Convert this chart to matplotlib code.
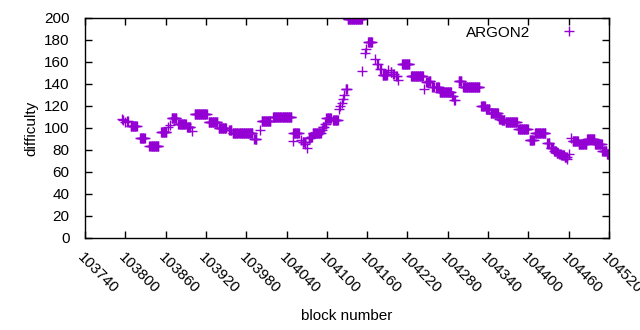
import numpy as np
import matplotlib
matplotlib.use('Agg')
import matplotlib.pyplot as plt

plt.rcParams['font.family'] = ['Liberation Sans', 'DejaVu Sans']

# difficulty per block, stored as runs: first block, number of blocks, value
run_start = [103795, 103797, 103800, 103803, 103808, 103822, 103836, 103853, 103864, 103867,
             103869, 103879, 103892, 103900, 103903, 103924, 103939, 103955, 103960, 103992,
             104000, 104003, 104020, 104049, 104050, 104061, 104064, 104068, 104070, 104073,
             104076, 104079, 104093, 104094, 104097, 104099, 104109, 104118, 104120, 104122,
             104124, 104126, 104128, 104131, 104153, 104157, 104159, 104161, 104171, 104175,
             104179, 104183, 104191, 104195, 104199, 104203, 104206, 104212, 104225, 104245,
             104248, 104252, 104257, 104263, 104268, 104287, 104289, 104296, 104303, 104330,
             104337, 104344, 104356, 104360, 104366, 104385, 104402, 104410, 104428, 104433,
             104438, 104442, 104446, 104449, 104454, 104458, 104461, 104464, 104466, 104475,
             104487, 104499, 104510, 104517]
run_len = [1, 1, 1, 2, 10, 8, 14, 9, 1, 1,
           8, 12, 6, 1, 19, 14, 12, 4, 30, 4,
           1, 14, 28, 1, 9, 1, 4, 1, 1, 3,
           3, 13, 1, 3, 2, 8, 8, 1, 1, 1,
           1, 1, 3, 22, 1, 1, 1, 7, 1, 2,
           2, 7, 1, 2, 2, 2, 1, 12, 19, 1,
           4, 3, 3, 5, 18, 2, 2, 5, 25, 6,
           6, 12, 4, 5, 18, 15, 7, 16, 4, 5,
           4, 3, 3, 5, 4, 1, 1, 1, 9, 12,
           12, 11, 7, 4]
run_val = [108, 107, 105, 106, 102, 91, 84, 96, 101, 103,
           109, 104, 101, 97, 113, 105, 100, 98, 95, 90,
           98, 106, 110, 88, 95, 89, 87, 85, 82, 91,
           92, 95, 98, 101, 104, 109, 107, 117, 120, 123,
           126, 130, 135, 199, 152, 168, 172, 178, 163, 158,
           154, 148, 153, 151, 149, 147, 144, 158, 147, 135,
           142, 143, 137, 137, 133, 129, 125, 143, 137, 120,
           117, 114, 108, 107, 105, 99, 89, 95, 86, 82,
           79, 77, 76, 75, 74, 72, 76, 91, 88, 85,
           90, 85, 79, 76]

blocks = np.concatenate([np.arange(s, s + n) for s, n in zip(run_start, run_len)])
diff = np.repeat(run_val, run_len)

color = '#9400d3'
xticks = np.arange(103740, 104521, 60)
yticks = np.arange(0, 201, 20)

fig = plt.figure(figsize=(6.4, 3.3), dpi=100)
ax = fig.add_axes([0.1328, 0.2788, 0.8188, 0.6667])

ax.plot(blocks, diff, linestyle='none', marker='+', color=color,
        markersize=6.5, markeredgewidth=1.0, label='ARGON2')

ax.set_xlim(103740, 104520)
ax.set_ylim(0, 200)
ax.set_xticks(xticks)
ax.set_yticks(yticks)
ax.set_xticklabels([str(t) for t in xticks], rotation=-45, ha='left', va='top',
                   rotation_mode='anchor')
ax.tick_params(direction='in', top=True, right=True, length=5, width=1,
               labelsize=11, colors='black')
ax.tick_params(axis='x', pad=9)
ax.tick_params(axis='y', pad=11)
for sp in ax.spines.values():
    sp.set_linewidth(1.0)

ax.set_xlabel('block number', fontsize=11, labelpad=9)
ax.set_ylabel('difficulty', fontsize=11, labelpad=4)

ax.legend(loc='upper right', frameon=False, markerfirst=False, fontsize=11,
          handlelength=2.5, borderaxespad=0.1, handletextpad=1.3,
          bbox_to_anchor=(0.975, 1.0))

fig.savefig('out.png', dpi=100)
